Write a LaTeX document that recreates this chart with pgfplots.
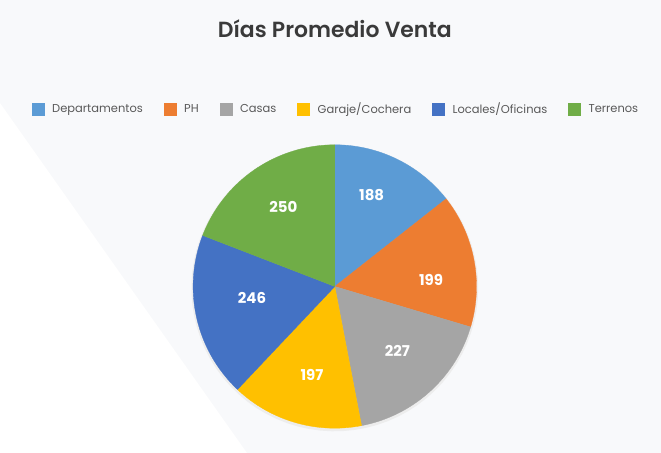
\documentclass[border=0pt]{standalone}
\usepackage{pgfplots}
\pgfplotsset{compat=1.18}
\usepackage{fontspec}
\setmainfont{Poppins}
\newfontfamily\titlefont{Poppins SemiBold}
\definecolor{cdep}{HTML}{5B9BD5}
\definecolor{cph}{HTML}{ED7D31}
\definecolor{ccas}{HTML}{A5A5A5}
\definecolor{cgar}{HTML}{FFC000}
\definecolor{cloc}{HTML}{4472C4}
\definecolor{cter}{HTML}{70AD47}
\definecolor{bgc}{HTML}{F8F9FB}
\definecolor{legtxt}{HTML}{595959}
\definecolor{titc}{HTML}{3A3A3A}
% values (dias promedio de venta)
\def\vA{188}\def\vB{199}\def\vC{227}\def\vD{197}\def\vE{246}\def\vF{250}
\pgfmathsetmacro\tot{\vA+\vB+\vC+\vD+\vE+\vF}
\pgfmathsetmacro\aA{90}
\pgfmathsetmacro\aB{\aA-\vA/\tot*360}
\pgfmathsetmacro\aC{\aB-\vB/\tot*360}
\pgfmathsetmacro\aD{\aC-\vC/\tot*360}
\pgfmathsetmacro\aE{\aD-\vD/\tot*360}
\pgfmathsetmacro\aF{\aE-\vE/\tot*360}
\pgfmathsetmacro\aG{\aF-\vF/\tot*360}
\begin{document}
\begin{tikzpicture}
\fill[bgc] (0,0) rectangle (661bp,453bp);
\fill[white] (0,0) -- (0,350bp) -- (247bp,0) -- cycle;
\begin{axis}[
  scale only axis, width=283.4bp, height=283.4bp,
  at={(334.8bp,166.5bp)}, anchor=center,
  xmin=-1, xmax=1, ymin=-1, ymax=1,
  hide axis, clip=false,
  title={\titlefont\fontsize{22}{26}\selectfont Días Promedio Venta},
  title style={at={(0.5,1.359)}, anchor=base, text=titc, inner sep=0pt},
  legend columns=-1,
  legend style={at={(0.501,1.126)}, anchor=center, draw=none, fill=none,
    font=\fontsize{11.5}{13}\selectfont, text=legtxt,
    nodes={inner sep=0pt},
    /tikz/every odd column/.append style={column sep=8bp},
    /tikz/every even column/.append style={column sep=21bp}},
  legend image code/.code={\fill[#1] (0bp,-6bp) rectangle (12bp,6bp);},
  every axis plot/.append style={samples=80, variable=\t, line width=0.3bp},
]
% faint shadow
\addplot[forget plot, fill=black!7, draw=none, domain=0:360] ({1.012*cos(t)},{-0.01+1.012*sin(t)});
\addplot[fill=cdep, draw=cdep, domain=\aB:\aA] ({cos(t)},{sin(t)}) -- (axis cs:0,0) -- cycle;
\addlegendentry{Departamentos}
\addplot[fill=cph, draw=cph, domain=\aC:\aB] ({cos(t)},{sin(t)}) -- (axis cs:0,0) -- cycle;
\addlegendentry{PH}
\addplot[fill=ccas, draw=ccas, domain=\aD:\aC] ({cos(t)},{sin(t)}) -- (axis cs:0,0) -- cycle;
\addlegendentry{Casas}
\addplot[fill=cgar, draw=cgar, domain=\aE:\aD] ({cos(t)},{sin(t)}) -- (axis cs:0,0) -- cycle;
\addlegendentry{Garaje/Cochera}
\addplot[fill=cloc, draw=cloc, domain=\aF:\aE] ({cos(t)},{sin(t)}) -- (axis cs:0,0) -- cycle;
\addlegendentry{Locales/Oficinas}
\addplot[fill=cter, draw=cter, domain=\aG:\aF] ({cos(t)},{sin(t)}) -- (axis cs:0,0) -- cycle;
\addlegendentry{Terrenos}
\addplot[forget plot, draw=none, mark=none, nodes near coords, point meta=explicit symbolic,
  nodes near coords style={anchor=center, text=white, font=\fontsize{15}{17}\selectfont\bfseries}]
  coordinates {(0.260,0.646)[188] (0.679,0.046)[199] (0.441,-0.455)[227]
               (-0.161,-0.627)[197] (-0.584,-0.081)[246] (-0.363,0.559)[250]};
\end{axis}
\end{tikzpicture}
\end{document}
